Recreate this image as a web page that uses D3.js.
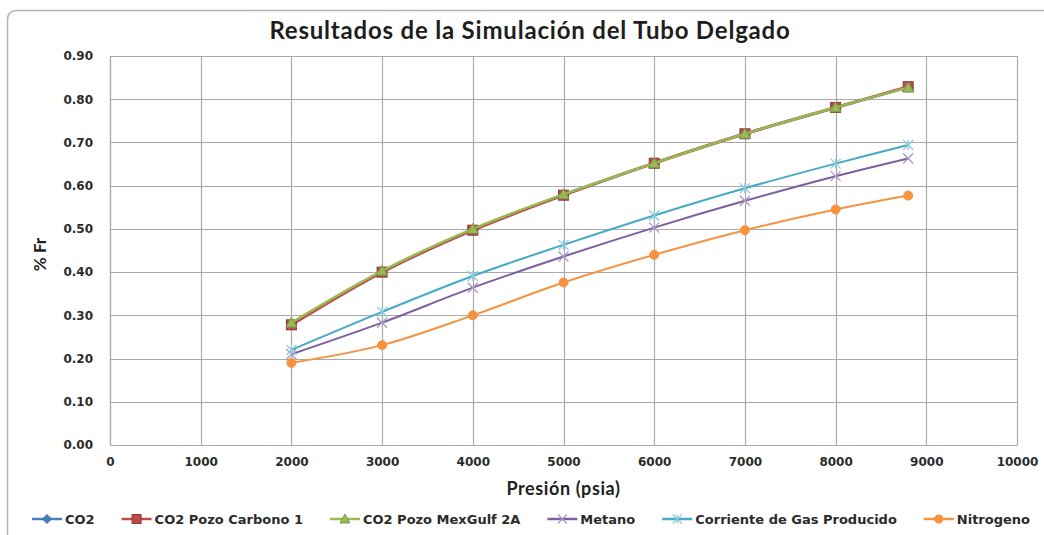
<!DOCTYPE html>
<html>
<head>
<meta charset="utf-8">
<script src="https://cdn.jsdelivr.net/npm/d3@7"></script>
<style>
  html, body { margin: 0; padding: 0; background: #fff; }
  svg { display: block; }
</style>
</head>
<body>
<svg id="chart" width="1044" height="535"></svg>
<script>
// Slim-tube simulation results: recovery factor vs. pressure
const pressure = [2000, 3000, 4000, 5000, 6000, 7000, 8000, 8800];
const co2        = [0.280, 0.400, 0.497, 0.578, 0.652, 0.720, 0.780, 0.828];
const co2Carbono = [0.278, 0.400, 0.497, 0.578, 0.652, 0.720, 0.781, 0.829];
const co2MexGulf = [0.283, 0.403, 0.500, 0.580, 0.652, 0.720, 0.781, 0.827];
const metano     = [0.210, 0.283, 0.364, 0.436, 0.503, 0.565, 0.622, 0.663];
const corriente  = [0.220, 0.308, 0.391, 0.463, 0.531, 0.594, 0.651, 0.694];
const nitrogeno  = [0.190, 0.231, 0.300, 0.376, 0.440, 0.497, 0.545, 0.577];

const seriesNames = ["CO2", "CO2 Pozo Carbono 1", "CO2 Pozo MexGulf 2A", "Metano", "Corriente de Gas Producido", "Nitrogeno"];
const seriesValues = [co2, co2Carbono, co2MexGulf, metano, corriente, nitrogeno];

const xTicks = [0, 1000, 2000, 3000, 4000, 5000, 6000, 7000, 8000, 9000, 10000];
const yTicks = [0, 0.1, 0.2, 0.3, 0.4, 0.5, 0.6, 0.7, 0.8, 0.9];

const chartTitle = "Resultados de la Simulación del Tubo Delgado";
const xTitle = "Presión (psia)";
const yTitle = "% Fr";

// styling per series
const styles = [
  { color: "#4A7EBB", marker: "diamond",  mFill: "#4A7EBB", mStroke: "#3A6AA5", width: 2.5 },
  { color: "#BE4B48", marker: "square",   mFill: "#BE4B48", mStroke: "#8C3836", width: 3 },
  { color: "#98B954", marker: "triangle", mFill: "#98B954", mStroke: "#7D9A45", width: 2.5 },
  { color: "#7D60A0", marker: "x",        mFill: "none",    mStroke: "#A898C2", width: 2 },
  { color: "#46AAC5", marker: "star",     mFill: "none",    mStroke: "#8CCBDD", width: 2 },
  { color: "#F69240", marker: "circle",   mFill: "#F69240", mStroke: "#F69240", width: 2 }
];

const svg = d3.select("#chart");
const W = 1044, H = 535;
const plot = { left: 110, right: 1017, top: 56, bottom: 445 };

// chart frame (only top/left edges fall inside the view)
svg.append("path")
  .attr("d", `M7.5,${H + 10} L7.5,20 Q7.5,10.5 17,10.5 L${W + 10},10.5`)
  .attr("fill", "none")
  .attr("stroke", "#B4B4B4")
  .attr("stroke-width", 1.5);

const x = d3.scaleLinear().domain([0, 10000]).range([plot.left, plot.right]);
const y = d3.scaleLinear().domain([0, 0.9]).range([plot.bottom, plot.top]);

const gridColor = "#A9A9A9";
const tickFont = "'DejaVu Sans', Verdana, sans-serif";
const titleFont = "Lato, 'Open Sans', sans-serif";

// gridlines
const grid = svg.append("g");
grid.selectAll("line.h").data(yTicks).join("line")
  .attr("x1", plot.left).attr("x2", plot.right)
  .attr("y1", d => Math.round(y(d)) + 0.5).attr("y2", d => Math.round(y(d)) + 0.5)
  .attr("stroke", gridColor).attr("stroke-width", 1.2);
grid.selectAll("line.v").data(xTicks).join("line")
  .attr("y1", plot.top).attr("y2", plot.bottom)
  .attr("x1", d => Math.round(x(d)) + 0.5).attr("x2", d => Math.round(x(d)) + 0.5)
  .attr("stroke", gridColor).attr("stroke-width", 1.2);

// axes
const yAxis = svg.append("g")
  .attr("transform", `translate(${plot.left},0)`)
  .call(d3.axisLeft(y).tickValues(yTicks).tickFormat(d3.format(".2f")).tickSize(0).tickPadding(17));
const xAxis = svg.append("g")
  .attr("transform", `translate(0,${plot.bottom})`)
  .call(d3.axisBottom(x).tickValues(xTicks).tickFormat(d3.format("d")).tickSize(0).tickPadding(12));
[xAxis, yAxis].forEach(g => {
  g.select(".domain").attr("stroke", gridColor).attr("stroke-width", 1.2);
  g.selectAll("text")
    .attr("font-family", tickFont)
    .attr("font-weight", "bold")
    .attr("font-size", "12px")
    .attr("fill", "#2b2b2b");
});

// titles
svg.append("text")
  .attr("x", 530).attr("y", 39)
  .attr("text-anchor", "middle")
  .attr("font-family", titleFont)
  .attr("font-weight", "bold")
  .attr("font-size", "24px")
  .attr("letter-spacing", "0.8px")
  .attr("fill", "#1e1e1e")
  .text(chartTitle);

svg.append("text")
  .attr("x", (plot.left + plot.right) / 2).attr("y", 495)
  .attr("text-anchor", "middle")
  .attr("font-family", titleFont)
  .attr("font-weight", "bold")
  .attr("font-size", "18px")
  .attr("letter-spacing", "0.6px")
  .attr("fill", "#1e1e1e")
  .text(xTitle);

svg.append("text")
  .attr("transform", `translate(46,${(plot.top + plot.bottom) / 2 + 4}) rotate(-90)`)
  .attr("text-anchor", "middle")
  .attr("font-family", titleFont)
  .attr("font-weight", "bold")
  .attr("font-size", "17px")
  .attr("fill", "#1e1e1e")
  .text(yTitle);

// marker drawing helper
function drawMarker(g, type, cx, cy, st, s) {
  s = s || 1;
  if (type === "diamond") {
    const r = 5 * s;
    g.append("path").attr("d", `M${cx},${cy - r} L${cx + r},${cy} L${cx},${cy + r} L${cx - r},${cy} Z`)
      .attr("fill", st.mFill).attr("stroke", st.mStroke).attr("stroke-width", 1);
  } else if (type === "square") {
    const r = 5 * s;
    g.append("rect").attr("x", cx - r).attr("y", cy - r).attr("width", 2 * r).attr("height", 2 * r)
      .attr("fill", st.mFill).attr("stroke", st.mStroke).attr("stroke-width", 1);
  } else if (type === "triangle") {
    const r = 5.5 * s;
    g.append("path").attr("d", `M${cx},${cy - r} L${cx + r},${cy + r * 0.8} L${cx - r},${cy + r * 0.8} Z`)
      .attr("fill", st.mFill).attr("stroke", st.mStroke).attr("stroke-width", 1);
  } else if (type === "x") {
    const r = 5 * s;
    g.append("path").attr("d", `M${cx - r},${cy - r} L${cx + r},${cy + r} M${cx - r},${cy + r} L${cx + r},${cy - r}`)
      .attr("fill", "none").attr("stroke", st.mStroke).attr("stroke-width", 1.3);
  } else if (type === "star") {
    const r = 5 * s;
    g.append("path").attr("d", `M${cx - r},${cy - r} L${cx + r},${cy + r} M${cx - r},${cy + r} L${cx + r},${cy - r} M${cx},${cy - r} L${cx},${cy + r}`)
      .attr("fill", "none").attr("stroke", st.mStroke).attr("stroke-width", 1.3);
  } else if (type === "circle") {
    g.append("circle").attr("cx", cx).attr("cy", cy).attr("r", 4.5 * s)
      .attr("fill", st.mFill).attr("stroke", st.mStroke).attr("stroke-width", 1);
  }
}

// series lines and markers
const line = d3.line()
  .x(d => x(d[0]))
  .y(d => y(d[1]))
  .curve(d3.curveCatmullRom.alpha(0.5));

const seriesG = svg.append("g");
seriesValues.forEach((vals, i) => {
  const st = styles[i];
  const pts = pressure.map((p, j) => [p, vals[j]]);
  const g = seriesG.append("g");
  g.append("path")
    .attr("d", line(pts))
    .attr("fill", "none")
    .attr("stroke", st.color)
    .attr("stroke-width", st.width)
    .attr("stroke-linejoin", "round");
  pts.forEach(p => drawMarker(g, st.marker, x(p[0]), y(p[1]), st));
});

// legend
const legend = svg.append("g");
const legY = 519;
const lineLen = 30, textGap = 3;
const items = seriesNames.map((name, i) => {
  const g = legend.append("g");
  const t = g.append("text")
    .attr("x", lineLen + textGap).attr("y", 4.5)
    .attr("font-family", tickFont)
    .attr("font-weight", "bold")
    .attr("font-size", "13px")
    .attr("fill", "#2b2b2b")
    .text(name);
  return { g, width: lineLen + textGap + t.node().getComputedTextLength() };
});
const legStart = 32, legEnd = 1030;
const totalItems = d3.sum(items, d => d.width);
const gap = (legEnd - legStart - totalItems) / (items.length - 1);
let cursor = legStart;
items.forEach((it, i) => {
  const st = styles[i];
  it.g.attr("transform", `translate(${cursor},${legY})`);
  it.g.insert("line", "text")
    .attr("x1", 0).attr("x2", lineLen).attr("y1", 0).attr("y2", 0)
    .attr("stroke", st.color).attr("stroke-width", 2.5);
  const mg = it.g.insert("g", "text");
  drawMarker(mg, st.marker, lineLen / 2, 0, st, 0.9);
  cursor += it.width + gap;
});
</script>
</body>
</html>
